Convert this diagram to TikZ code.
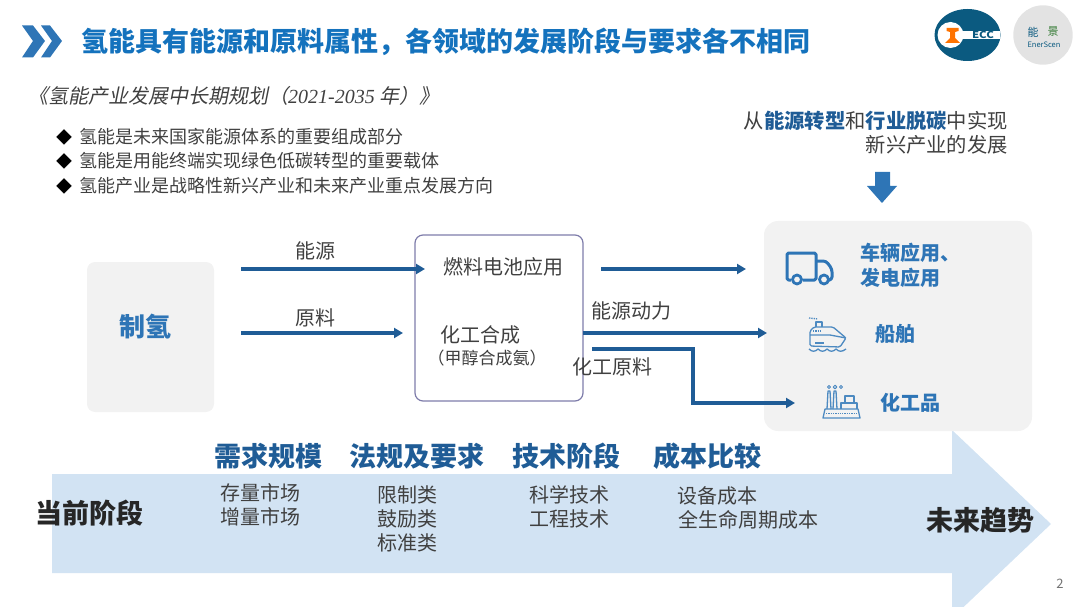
\documentclass[tikz,border=0pt]{standalone}
\usepackage{fontspec}
\setmainfont{Noto Sans CJK SC}
\newfontfamily\slantfont[FakeSlant=0.2]{Noto Sans CJK SC}
\newfontfamily\digitfont{Liberation Serif}
\usetikzlibrary{arrows.meta}
\definecolor{titleblue}{HTML}{1472BD}
\definecolor{iconblue}{HTML}{2E75B6}
\definecolor{linkblue}{HTML}{1F5C96}
\definecolor{arrowblue}{HTML}{D2E3F3}
\definecolor{panelgray}{HTML}{F2F2F2}
\definecolor{textgray}{HTML}{404040}
\definecolor{logoblue}{HTML}{0B5A80}
\definecolor{framepurple}{HTML}{7E7CAA}

\begin{document}
\begin{tikzpicture}[x=1pt,y=-1pt]
    \tikzset{panel/.style = {fill=panelgray,inner sep=0pt},
             link/.style = {draw=linkblue,line width=3.3pt,-{Triangle[length=9pt,width=10pt]}},
             plain/.style = {text=textgray,font=\fontsize{20}{24}\selectfont,inner sep=0pt},
             bullet/.style = {text=textgray,font=\fontsize{18}{22}\selectfont,inner sep=0pt,anchor=west},
             heading/.style = {text=linkblue,font=\fontsize{27}{32}\selectfont\bfseries,inner sep=0pt},
             stage/.style = {text=black!85,font=\fontsize{27}{32}\selectfont\bfseries,inner sep=0pt},
             product/.style = {text=iconblue,font=\fontsize{20}{25}\selectfont\bfseries,inner sep=0pt,anchor=west,align=left},
             icon/.style = {draw=iconblue!85,line width=1.3pt,line join=round},
             truck/.style = {draw=iconblue,line width=3pt,line join=round}}
    \useasboundingbox (0,0) rectangle (1080,607);

    % Long arrow at the bottom
    \fill[arrowblue] (52,474) -- (952,474) -- (952,430) -- (1051,524) -- (952,618)
        -- (952,573) -- (52,573) -- cycle;

    % Header
    \fill[iconblue] (22,25.5) -- (33,25.5) -- (45,41) -- (33,57.5) -- (22,57.5) -- (33,41) -- cycle;
    \fill[iconblue] (41,25.5) -- (50,25.5) -- (62,41) -- (50,57.5) -- (41,57.5) -- (52,41) -- cycle;
    \node[inner sep=0pt,anchor=west,text=titleblue,font=\fontsize{27}{32}\selectfont\bfseries]
        (title) at (81,42) {氢能具有能源和原料属性，各领域的发展阶段与要求各不相同};

    % Logos
    \fill[logoblue] (967.5,35) ellipse (33 and 26);
    \fill[white] (963,31) rectangle (1000.3,39.5);
    \fill[white] (950.5,35) circle (13);
    \fill[orange!90!red] (946.5,28) -- (958.5,28) -- (958.5,31) -- (955,32) -- (955,38) -- (960,43) -- (945,43)
        -- (950,38) -- (950,32) -- (946.5,31) -- cycle;
    \node[inner sep=0pt,text=logoblue,xscale=1.2,font=\fontsize{9.5}{10}\selectfont\bfseries] (ecc) at (983,35.3) {ECC};
    \fill[black!11] (1043,35) circle (29.7);
    \node[inner sep=0pt,text=logoblue,font=\fontsize{11}{11}\selectfont] (neng) at (1033,32) {能};
    \node[inner sep=0pt,text=green!35!black!80,font=\fontsize{11}{11}\selectfont] (jing) at (1053,32) {景};
    \node[inner sep=0pt,text=logoblue,font=\fontsize{7.5}{8}\selectfont] (ener) at (1044,44.5) {EnerScen};

    % Policy text
    \node[inner sep=0pt,anchor=west,text=textgray,font=\fontsize{20}{24}\slantfont]
        (policy) at (28,96) {《氢能产业发展中长期规划（{\digitfont\itshape 2021-2035} 年）》};
    \foreach \pos/\name in {{137/氢能是未来国家能源体系的重要组成部分},
                            {161/氢能是用能终端实现绿色低碳转型的重要载体},
                            {186/氢能产业是战略性新兴产业和未来产业重点发展方向}}
    {
        \node[bullet,text=black,font=\fontsize{16}{18}\selectfont] at (56,\pos) {◆};
        \node[bullet] at (79.5,\pos) {\name};
    }

    % Upper right note and block arrow
    \node[plain,anchor=north east,align=right,font=\fontsize{20.3}{24}\selectfont] (note) at (1008,110.5)
        {从\textcolor{linkblue}{\bfseries 能源转型}和\textcolor{linkblue}{\bfseries 行业脱碳}中实现\\新兴产业的发展};
    \fill[iconblue] (875,172) -- (890,172) -- (890,186) -- (897,186) -- (882,203) -- (867,186) -- (875,186) -- cycle;

    % Boxes
    \node[panel,minimum width=127pt,minimum height=150pt,rounded corners=8pt] (source) at (150.5,337) {};
    \node[text=iconblue,inner sep=0pt,font=\fontsize{26}{30}\selectfont\bfseries] (h2) at (145.5,327) {制氢};
    \node[draw=framepurple,line width=1.2pt,rounded corners=8pt,minimum width=168pt,minimum height=166pt,inner sep=0pt]
        (process) at (499,318) {};
    \node[panel,minimum width=268pt,minimum height=210pt,rounded corners=14pt] (uses) at (898,326) {};

    \node[plain] (fuelcell) at (503.5,266.5) {燃料电池应用};
    \node[plain] (synth) at (480.5,335) {化工合成};
    \node[plain,font=\fontsize{17}{20}\selectfont] (methanol) at (487,358) {（甲醇合成氨）};

    % Connectors
    \foreach \x/\y/\name in {241/269/a1, 425/269/a2, 241/333/b1, 403/333/b2,
                             601/269/c1, 746/269/c2, 583/333/d1, 767/333/d2,
                             592/349/e1, 693/349/e2, 693/403/e3, 795/403/e4}
        \coordinate (\name) at (\x,\y);
    \foreach \source/\target in {a1/a2, b1/b2, c1/c2, d1/d2}
        \draw[link] (\source) -- (\target);
    \draw[link] (e1) -- (e2) -- (e3) -- (e4);

    \foreach \pos/\name in {{(315.5,251)/能源}, {(315.5,318)/原料}, {(631.5,311)/能源动力}, {(612.5,367)/化工原料}}
        \node[plain] at \pos {\name};

    % Truck icon
    \draw[truck,rounded corners=1.5pt] (791,280) -- (787,280) -- (787,253) -- (816,253) -- (816,280) -- (803,280);
    \draw[truck,rounded corners=3pt] (816,261) -- (826,261) -- (832,269) -- (832,280) -- (830,280);
    \draw[truck,line width=2.8pt,fill=panelgray] (797,279.5) circle (4.5);
    \draw[truck,line width=2.8pt,fill=panelgray] (824,279.5) circle (4.5);
    \node[product] (vehicle) at (860,265) {车辆应用、\\发电应用};

    % Ship icon
    \draw[icon,rounded corners=1.5pt] (810,346) -- (810,331) -- (814,327) -- (833,327) -- (846,338) -- (840,347) -- cycle;
    \draw[icon] (816,327) -- (816,322) -- (822,322) -- (822,327);
    \draw[icon,densely dotted] (809,318) -- (818,319);
    \draw[icon] (810,335) -- (830,335) -- (846,338);
    \draw[icon,densely dotted] (813,331) -- (820,331);
    \draw[icon] (815,343) -- (824,343);
    \draw[icon] (809,349) .. controls (812,352) and (815,352) .. (818,349) .. controls (821,352) and (824,352) .. (827,349)
        .. controls (830,352) and (833,352) .. (836,349) .. controls (839,352) and (842,352) .. (846,349);
    \node[product] (ship) at (875,334) {船舶};

    % Factory icon
    \draw[icon] (823,418) -- (860,418) -- (858,409) -- (825,409) -- cycle;
    \draw[icon] (827,409) -- (828,391) -- (830,391) -- (831,409);
    \draw[icon] (833,409) -- (834,391) -- (836,391) -- (837,409);
    \draw[icon] (841,409) -- (841,403) -- (857,403) -- (857,409);
    \draw[icon] (845,403) -- (845,396) -- (854,396) -- (854,403);
    \draw[icon,line width=1pt] (829,387) circle (1.5) (835,387) circle (1.8) (841,387) circle (1.5);
    \draw[icon,densely dotted] (826,413.5) -- (858,413.5);
    \node[product] (chem) at (880,403) {化工品};

    % Labels over the long arrow
    \foreach \pos/\name in {{(268,456)/需求规模}, {(417,456)/法规及要求}, {(566,456)/技术阶段}, {(707,456)/成本比较}}
        \node[heading] at \pos {\name};
    \foreach \pos/\name in {{(89,513)/当前阶段}, {(980,520)/未来趋势}}
        \node[stage] at \pos {\name};
    \foreach \pos/\name in {{(260.5,493)/存量市场}, {(260.5,517)/增量市场},
                            {(407.5,495)/限制类}, {(407.5,519)/鼓励类}, {(407.5,543)/标准类},
                            {(569.5,495)/科学技术}, {(569.5,519)/工程技术},
                            {(717.5,496)/设备成本}, {(748.5,520)/全生命周期成本}}
        \node[plain] at \pos {\name};

    \node[inner sep=0pt,text=black!55,font=\fontsize{13}{15}\selectfont] (page) at (1060,584) {2};
\end{tikzpicture}
\end{document}
